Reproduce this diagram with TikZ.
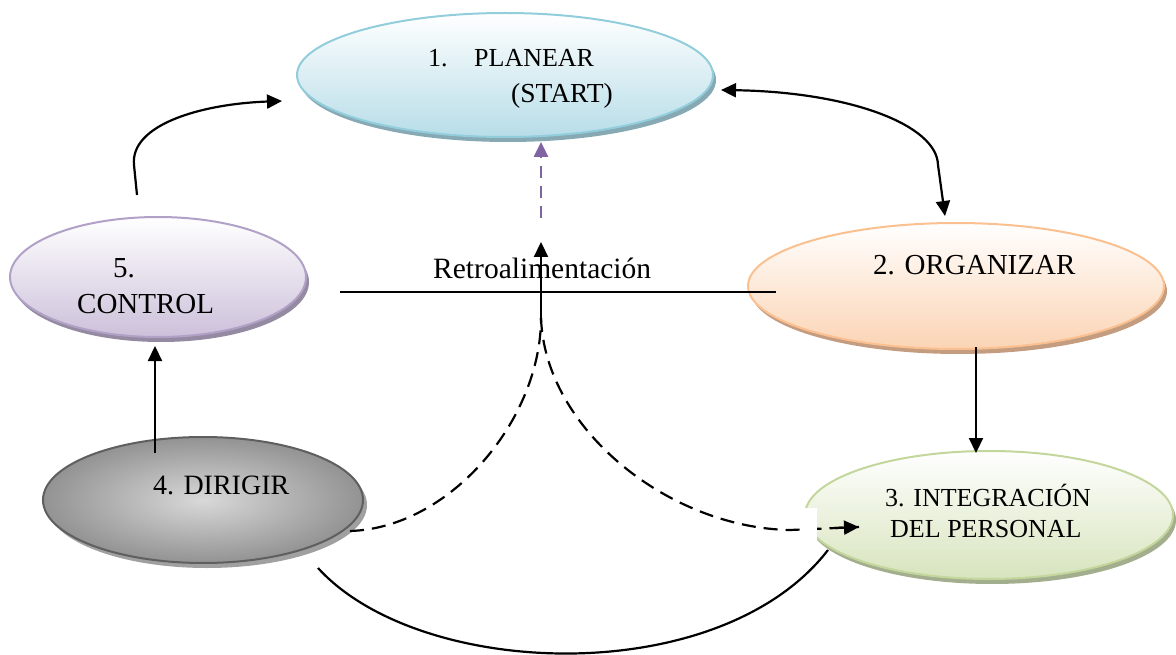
\documentclass[tikz,border=0pt]{standalone}
\usepackage{fontspec}
\setmainfont{Liberation Serif}
\usetikzlibrary{shapes.geometric,arrows.meta,shadows}
\definecolor{planB}{HTML}{92CDDC}
\definecolor{planF}{HTML}{B7DDE8}
\definecolor{planS}{HTML}{86A9B3}
\definecolor{ctrlB}{HTML}{B2A1C7}
\definecolor{ctrlF}{HTML}{CCC0DA}
\definecolor{ctrlS}{HTML}{948BA3}
\definecolor{orgB}{HTML}{FAC090}
\definecolor{orgF}{HTML}{FBD4B4}
\definecolor{orgS}{HTML}{C49C80}
\definecolor{intB}{HTML}{C3D69B}
\definecolor{intF}{HTML}{D7E4BD}
\definecolor{intS}{HTML}{A3AE8E}
\definecolor{dirB}{HTML}{5F5F5F}
\definecolor{dirS}{HTML}{A0A0A0}
\definecolor{retroP}{HTML}{8064A2}
\tikzset{
  oval/.style={ellipse, inner sep=0pt, line width=2pt},
  lbl/.style={inner sep=0pt, anchor=base west, font=\fontsize{26}{30}\selectfont},
  lblb/.style={inner sep=0pt, anchor=base west, font=\fontsize{29}{34}\selectfont},
  conn/.style={line width=2.2pt, black},
  dashc/.style={line width=2.2pt, dash pattern=on 14pt off 8pt},
  >={Triangle[length=15pt,width=14pt]},
}
\begin{document}
\begin{tikzpicture}[x=1pt,y=-1pt]
\useasboundingbox (0,0) rectangle (1176,655);
% ellipses
\node[oval, minimum width=416pt, minimum height=124pt, draw=planB, top color=white, bottom color=planF,
  drop shadow={shadow xshift=3pt, shadow yshift=-5pt, fill=planS, opacity=1}] (plan) at (505,75) {};
\node[oval, minimum width=296pt, minimum height=120pt, draw=ctrlB, top color=white, bottom color=ctrlF,
  drop shadow={shadow xshift=3pt, shadow yshift=-5pt, fill=ctrlS, opacity=1}] (ctrl) at (158,277) {};
\node[oval, minimum width=416pt, minimum height=126pt, draw=orgB, top color=white, bottom color=orgF,
  drop shadow={shadow xshift=3pt, shadow yshift=-5pt, fill=orgS, opacity=1}] (org) at (956,286) {};
\node[oval, minimum width=320pt, minimum height=126pt, draw=dirB, inner color=gray!30, outer color=gray!85,
  drop shadow={shadow xshift=4pt, shadow yshift=-5pt, fill=dirS, opacity=1}] (dir) at (203,500) {};
\node[oval, minimum width=368pt, minimum height=128pt, draw=intB, top color=white, bottom color=intF,
  drop shadow={shadow xshift=3pt, shadow yshift=-5pt, fill=intS, opacity=1}] (integ) at (989,515) {};
% texts
\node[lbl] (t1a) at (428,67) {1.};
\node[lbl] (t1b) at (474,67) {PLANEAR};
\node[lbl, font=\fontsize{27.5}{32}\selectfont] (t1c) at (511,103) {(START)};
\node[lblb] (t5a) at (113,277) {5.};
\node[lblb] (t5b) at (77,313) {CONTROL};
\node[lblb] (t2) at (873,275) {2. ORGANIZAR};
\node[lbl, font=\fontsize{28}{32}\selectfont] (t4) at (153,494) {4. DIRIGIR};
\node[lbl] (t3a) at (885,506) {3. INTEGRACIÓN};
\node[lbl] (t3b) at (890,537) {DEL PERSONAL};
\node[inner sep=0pt, anchor=base west, font=\fontsize{29.5}{34}\selectfont] (retro) at (433,279) {Retroalimentación};
% coordinates
\coordinate (c5s) at (137,195);
\coordinate (c1w) at (282,101);
\coordinate (c1e) at (721,90);
\coordinate (c2n) at (945,216);
\coordinate (c2s) at (976,347);
\coordinate (c3n) at (976,453);
\coordinate (c4n) at (155,453);
\coordinate (c5s2) at (155,346);
\coordinate (hl) at (340,292);
\coordinate (hr) at (776,292);
\coordinate (pS) at (541,218);
\coordinate (pN) at (541,142);
\coordinate (dA) at (350,531);
\coordinate (top) at (541,318);
\coordinate (rtip) at (541,242);
\coordinate (iW) at (859,527);
\coordinate (bL) at (318,568);
\coordinate (bR) at (828,550);
% connectors
\draw[conn, ->] (c5s) -- (134,165) .. controls (130,125) and (200,104) .. (c1w);
\draw[conn, <->] (c1e) .. controls (850,92) and (937,125) .. (938,165) -- (c2n);
\draw[conn, ->] (c2s) -- (c3n);
\draw[conn, ->] (c4n) -- (c5s2);
\draw[conn] (hl) -- (hr);
\draw[line width=2.6pt, retroP, dash pattern=on 12pt off 8pt, ->] (pS) -- (pN);
\draw[conn, dashc] (dA) .. controls (450,528) and (541,420) .. (top);
\draw[conn, ->] (top) -- (rtip);
\draw[conn, dashc] (top) .. controls (545,430) and (670,528) .. (790,530) -- (iW);
\fill[white] (803,508) rectangle (817,541);
\draw[conn, ->] (835,528) -- (iW);
\draw[conn] (bL) .. controls (420,680) and (720,690) .. (bR);
\end{tikzpicture}
\end{document}
